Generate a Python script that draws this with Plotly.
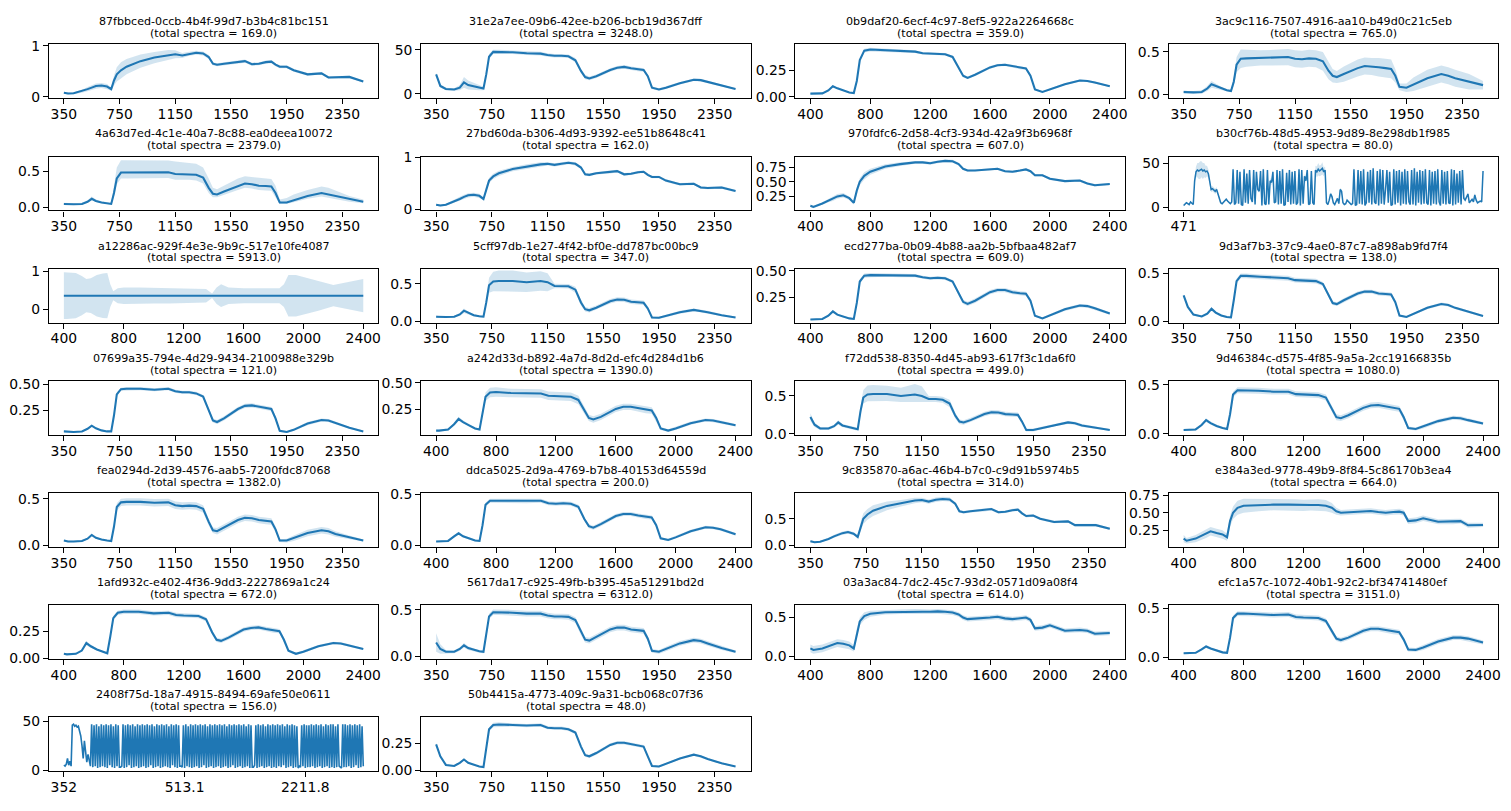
import plotly.graph_objects as go

# ---------------- data ----------------
WL_A = [350, 380, 420, 480, 520, 550, 580, 620, 660, 690,
        710, 730, 760, 800, 900, 1000, 1100, 1150, 1200, 1250,
        1300, 1350, 1390, 1420, 1450, 1500, 1600, 1650, 1700, 1750,
        1800, 1840, 1870, 1900, 1950, 2000, 2100, 2200, 2250, 2300, 2400, 2500]
WL_B = [400, 420, 480, 520, 550, 580, 620, 660, 690,
        710, 730, 760, 800, 900, 1000, 1100, 1150, 1200, 1250,
        1300, 1350, 1390, 1420, 1450, 1500, 1600, 1650, 1700, 1750,
        1800, 1840, 1870, 1900, 1950, 2000, 2100, 2200, 2250, 2300, 2400]
TICKS_A = [350, 750, 1150, 1550, 1950, 2350]
TICKS_B = [400, 800, 1200, 1600, 2000, 2400]

IDS = ["87fbbced-0ccb-4b4f-99d7-b3b4c81bc151", "31e2a7ee-09b6-42ee-b206-bcb19d367dff",
       "0b9daf20-6ecf-4c97-8ef5-922a2264668c", "3ac9c116-7507-4916-aa10-b49d0c21c5eb",
       "4a63d7ed-4c1e-40a7-8c88-ea0deea10072", "27bd60da-b306-4d93-9392-ee51b8648c41",
       "970fdfc6-2d58-4cf3-934d-42a9f3b6968f", "b30cf76b-48d5-4953-9d89-8e298db1f985",
       "a12286ac-929f-4e3e-9b9c-517e10fe4087", "5cff97db-1e27-4f42-bf0e-dd787bc00bc9",
       "ecd277ba-0b09-4b88-aa2b-5bfbaa482af7", "9d3af7b3-37c9-4ae0-87c7-a898ab9fd7f4",
       "07699a35-794e-4d29-9434-2100988e329b", "a242d33d-b892-4a7d-8d2d-efc4d284d1b6",
       "f72dd538-8350-4d45-ab93-617f3c1da6f0", "9d46384c-d575-4f85-9a5a-2cc19166835b",
       "fea0294d-2d39-4576-aab5-7200fdc87068", "ddca5025-2d9a-4769-b7b8-40153d64559d",
       "9c835870-a6ac-46b4-b7c0-c9d91b5974b5", "e384a3ed-9778-49b9-8f84-5c86170b3ea4",
       "1afd932c-e402-4f36-9dd3-2227869a1c24", "5617da17-c925-49fb-b395-45a51291bd2d",
       "03a3ac84-7dc2-45c7-93d2-0571d09a08f4", "efc1a57c-1072-40b1-92c2-bf34741480ef",
       "2408f75d-18a7-4915-8494-69afe50e0611", "50b4415a-4773-409c-9a31-bcb068c07f36"]
TOTALS = [169.0, 3248.0, 359.0, 765.0, 2379.0, 162.0, 607.0, 80.0, 5913.0, 347.0,
          609.0, 138.0, 121.0, 1390.0, 499.0, 1080.0, 1382.0, 200.0, 314.0, 664.0,
          672.0, 6312.0, 614.0, 3151.0, 156.0, 48.0]

# y ranges and ticks per subplot
Y_RANGES = [[-0.03, 1.03], [-5, 56], [-0.015, 0.5], [-0.045, 0.59],
            [-0.04, 0.70], [-0.02, 1.01], [0.01, 0.93], [-3.7, 57.4],
            [-0.36, 1.07], [-0.02, 0.70], [0.015, 0.52], [-0.015, 0.55],
            [0.012, 0.53], [0.01, 0.52], [-0.015, 0.70], [-0.01, 0.54],
            [-0.02, 0.56], [-0.015, 0.515], [-0.03, 0.98], [0.01, 0.78],
            [-0.01, 0.49], [-0.03, 0.55], [-0.04, 0.66], [-0.02, 0.53],
            [-1.4, 54], [-0.01, 0.49]]
Y_TICKS = [[0, 1], [0, 50], [0.0, 0.25], [0.0, 0.5],
           [0.0, 0.5], [0, 1], [0.25, 0.5, 0.75], [0, 50],
           [0, 1], [0.0, 0.5], [0.25, 0.5], [0.0, 0.5],
           [0.25, 0.5], [0.25, 0.5], [0.0, 0.5], [0.0, 0.5],
           [0.0, 0.5], [0.0, 0.5], [0.0, 0.5], [0.25, 0.5, 0.75],
           [0.0, 0.25], [0.0, 0.5], [0.0, 0.5], [0.0, 0.5],
           [0, 50], [0.0, 0.25]]
Y_TICKTEXT = [["0", "1"], ["0", "50"], ["0.00", "0.25"], ["0.0", "0.5"],
              ["0.0", "0.5"], ["0", "1"], ["0.25", "0.50", "0.75"], ["0", "50"],
              ["0", "1"], ["0.0", "0.5"], ["0.25", "0.50"], ["0.0", "0.5"],
              ["0.25", "0.50"], ["0.25", "0.50"], ["0.0", "0.5"], ["0.0", "0.5"],
              ["0.0", "0.5"], ["0.0", "0.5"], ["0.0", "0.5"], ["0.25", "0.50", "0.75"],
              ["0.00", "0.25"], ["0.0", "0.5"], ["0.0", "0.5"], ["0.0", "0.5"],
              ["0", "50"], ["0.00", "0.25"]]

# --- spectral subplots: mean and band deviations ---
P01_MEAN = [0.08, 0.065, 0.07, 0.11, 0.15, 0.18, 0.21, 0.22, 0.20, 0.15,
            0.32, 0.44, 0.52, 0.59, 0.70, 0.77, 0.82, 0.835, 0.81, 0.845,
            0.865, 0.85, 0.78, 0.65, 0.63, 0.65, 0.68, 0.70, 0.64, 0.65,
            0.68, 0.69, 0.63, 0.59, 0.59, 0.52, 0.44, 0.46, 0.38, 0.38, 0.39, 0.30]
P01_UP = [0.02, 0.02, 0.02, 0.03, 0.04, 0.05, 0.05, 0.05, 0.05, 0.03,
          0.10, 0.14, 0.16, 0.15, 0.13, 0.11, 0.10, 0.08, 0.05, 0.04,
          0.04, 0.04, 0.04, 0.03, 0.03, 0.03, 0.03, 0.03, 0.03, 0.03,
          0.03, 0.03, 0.03, 0.03, 0.03, 0.03, 0.025, 0.025, 0.025, 0.025, 0.025, 0.02]
P01_DN = P01_UP

P02_MEAN = [22, 9, 5.5, 5, 7, 13, 10, 8.5, 7, 6,
            22, 42, 47.5, 47.5, 47, 46, 45.5, 44, 43, 43,
            42.5, 38, 26, 19, 17.5, 20, 27, 29.5, 30.5, 29,
            27.5, 27, 20, 7, 5, 7, 12, 16, 15.5, 13.5, 9.5, 5.5]
P02_UP = [2, 2, 1.5, 1.5, 3, 6, 5, 4, 3, 2,
          3, 3, 2.5, 2.5, 2, 2, 2, 2, 2, 2,
          2, 2.5, 2.5, 2.5, 2, 2, 2, 2, 2, 2,
          2, 2, 2, 1.5, 1.5, 1.5, 1.5, 1.5, 1.5, 1.5, 1.2, 1]
P02_DN = P02_UP

P03_MEAN = [0.03, 0.03, 0.032, 0.06, 0.10, 0.08, 0.06, 0.04, 0.035,
            0.15, 0.35, 0.44, 0.45, 0.445, 0.435, 0.43, 0.415, 0.41, 0.41,
            0.405, 0.38, 0.28, 0.20, 0.18, 0.21, 0.28, 0.30, 0.305, 0.29,
            0.275, 0.27, 0.20, 0.07, 0.045, 0.07, 0.12, 0.155, 0.15, 0.135, 0.10]
P03_UP = [0.006, 0.006, 0.006, 0.008, 0.012, 0.01, 0.008, 0.006, 0.006,
          0.012, 0.015, 0.018, 0.018, 0.015, 0.014, 0.013, 0.012, 0.012, 0.012,
          0.012, 0.013, 0.013, 0.013, 0.012, 0.012, 0.012, 0.012, 0.012, 0.012,
          0.012, 0.012, 0.012, 0.01, 0.008, 0.01, 0.01, 0.01, 0.01, 0.01, 0.008]
P03_DN = P03_UP

P04_MEAN = [0.03, 0.025, 0.025, 0.03, 0.07, 0.12, 0.10, 0.07, 0.05, 0.04,
            0.15, 0.35, 0.42, 0.425, 0.43, 0.435, 0.44, 0.42, 0.415, 0.425,
            0.42, 0.39, 0.28, 0.22, 0.205, 0.24, 0.31, 0.335, 0.33, 0.32,
            0.31, 0.30, 0.22, 0.09, 0.08, 0.12, 0.19, 0.24, 0.22, 0.19, 0.15, 0.11]
P04_UP = [0.02, 0.015, 0.015, 0.02, 0.03, 0.04, 0.03, 0.02, 0.015, 0.015,
          0.05, 0.09, 0.11, 0.10, 0.09, 0.09, 0.095, 0.10, 0.10, 0.10,
          0.10, 0.11, 0.10, 0.08, 0.07, 0.09, 0.10, 0.10, 0.10, 0.11,
          0.11, 0.11, 0.08, 0.04, 0.05, 0.08, 0.10, 0.10, 0.10, 0.10, 0.09, 0.05]
P04_DN = P04_UP

P05_MEAN = [0.05, 0.045, 0.045, 0.05, 0.08, 0.12, 0.09, 0.07, 0.06, 0.05,
            0.2, 0.40, 0.48, 0.48, 0.485, 0.48, 0.485, 0.46, 0.455, 0.46,
            0.45, 0.41, 0.27, 0.19, 0.18, 0.22, 0.30, 0.33, 0.32, 0.30,
            0.295, 0.29, 0.2, 0.07, 0.07, 0.10, 0.16, 0.20, 0.18, 0.15, 0.11, 0.08]
P05_UP = [0.015, 0.015, 0.015, 0.015, 0.02, 0.03, 0.02, 0.015, 0.015, 0.015,
          0.1, 0.15, 0.17, 0.17, 0.17, 0.17, 0.16, 0.17, 0.17, 0.15,
          0.15, 0.14, 0.13, 0.08, 0.07, 0.08, 0.1, 0.1, 0.1, 0.1,
          0.1, 0.1, 0.1, 0.04, 0.06, 0.08, 0.08, 0.09, 0.09, 0.08, 0.05, 0.03]
P05_DN = [0.01, 0.01, 0.01, 0.01, 0.015, 0.02, 0.015, 0.01, 0.01, 0.01,
          0.05, 0.08, 0.08, 0.08, 0.08, 0.08, 0.08, 0.08, 0.08, 0.08,
          0.08, 0.08, 0.07, 0.05, 0.04, 0.05, 0.06, 0.06, 0.06, 0.06,
          0.06, 0.06, 0.05, 0.02, 0.02, 0.03, 0.04, 0.05, 0.05, 0.04, 0.03, 0.02]

P06_MEAN = [0.09, 0.075, 0.09, 0.15, 0.20, 0.24, 0.27, 0.28, 0.26, 0.20,
            0.40, 0.55, 0.63, 0.69, 0.77, 0.82, 0.86, 0.87, 0.85, 0.87,
            0.89, 0.87, 0.80, 0.67, 0.66, 0.69, 0.71, 0.73, 0.67, 0.68,
            0.71, 0.72, 0.66, 0.62, 0.62, 0.55, 0.48, 0.49, 0.42, 0.41, 0.42, 0.35]
P06_UP = [0.02, 0.02, 0.02, 0.03, 0.04, 0.04, 0.04, 0.04, 0.04, 0.03,
          0.05, 0.05, 0.05, 0.05, 0.04, 0.04, 0.04, 0.03, 0.03, 0.03,
          0.03, 0.03, 0.03, 0.025, 0.025, 0.025, 0.025, 0.025, 0.025, 0.025,
          0.025, 0.025, 0.025, 0.025, 0.025, 0.025, 0.025, 0.025, 0.025, 0.025, 0.025, 0.02]
P06_DN = P06_UP

P07_MEAN = [0.09, 0.07, 0.13, 0.18, 0.21, 0.25, 0.27, 0.22, 0.14,
            0.35, 0.50, 0.60, 0.67, 0.76, 0.80, 0.83, 0.83, 0.815, 0.84,
            0.855, 0.85, 0.80, 0.72, 0.69, 0.69, 0.71, 0.72, 0.68, 0.67,
            0.69, 0.71, 0.68, 0.61, 0.61, 0.55, 0.51, 0.52, 0.47, 0.44, 0.46]
P07_UP = [0.02, 0.02, 0.02, 0.03, 0.04, 0.04, 0.04, 0.03, 0.03,
          0.06, 0.06, 0.06, 0.05, 0.04, 0.03, 0.025, 0.025, 0.025, 0.025,
          0.025, 0.025, 0.025, 0.02, 0.02, 0.02, 0.02, 0.02, 0.02, 0.02,
          0.02, 0.02, 0.02, 0.02, 0.02, 0.02, 0.02, 0.02, 0.02, 0.02, 0.02]
P07_DN = P07_UP

P09_MEAN = [0.355, 0.355, 0.355, 0.355, 0.355, 0.355, 0.355, 0.355, 0.355,
            0.355, 0.355, 0.355, 0.355, 0.355, 0.355, 0.355, 0.355, 0.355, 0.355,
            0.355, 0.355, 0.355, 0.355, 0.355, 0.355, 0.355, 0.355, 0.355, 0.355,
            0.355, 0.355, 0.355, 0.355, 0.355, 0.355, 0.355, 0.355, 0.355, 0.355, 0.355]
P09_UP = [0.62, 0.62, 0.60, 0.52, 0.44, 0.46, 0.55, 0.59, 0.60,
          0.30, 0.12, 0.20, 0.22, 0.22, 0.21, 0.21, 0.21, 0.20, 0.20,
          0.19, 0.18, 0.06, 0.22, 0.30, 0.22, 0.20, 0.20, 0.20, 0.20,
          0.20, 0.20, 0.30, 0.55, 0.55, 0.50, 0.40, 0.28, 0.32, 0.36, 0.44]
P09_DN = P09_UP

P10_MEAN = [0.06, 0.055, 0.055, 0.06, 0.09, 0.14, 0.11, 0.08, 0.065, 0.06,
            0.25, 0.48, 0.53, 0.535, 0.535, 0.52, 0.535, 0.52, 0.47, 0.47,
            0.465, 0.42, 0.25, 0.16, 0.145, 0.18, 0.265, 0.29, 0.285, 0.26,
            0.25, 0.245, 0.17, 0.05, 0.045, 0.07, 0.12, 0.15, 0.14, 0.12, 0.08, 0.05]
P10_UP = [0.015, 0.012, 0.012, 0.012, 0.02, 0.03, 0.02, 0.015, 0.012, 0.012,
          0.05, 0.10, 0.13, 0.14, 0.14, 0.13, 0.13, 0.12, 0.03, 0.03,
          0.03, 0.04, 0.04, 0.03, 0.03, 0.03, 0.03, 0.03, 0.03, 0.03,
          0.03, 0.03, 0.03, 0.015, 0.015, 0.02, 0.02, 0.02, 0.02, 0.02, 0.015, 0.012]
P10_DN = P10_UP

P11_MEAN = [0.045, 0.045, 0.05, 0.08, 0.12, 0.09, 0.07, 0.055, 0.05,
            0.2, 0.40, 0.455, 0.46, 0.46, 0.455, 0.455, 0.44, 0.43, 0.435,
            0.43, 0.40, 0.29, 0.21, 0.19, 0.22, 0.30, 0.32, 0.32, 0.30,
            0.29, 0.285, 0.22, 0.08, 0.055, 0.085, 0.14, 0.175, 0.17, 0.15, 0.10]
P11_UP = [0.005, 0.005, 0.006, 0.01, 0.015, 0.01, 0.008, 0.006, 0.006,
          0.015, 0.02, 0.02, 0.02, 0.015, 0.015, 0.015, 0.015, 0.015, 0.015,
          0.015, 0.015, 0.02, 0.02, 0.02, 0.02, 0.02, 0.02, 0.02, 0.02,
          0.02, 0.02, 0.02, 0.01, 0.01, 0.012, 0.015, 0.015, 0.015, 0.015, 0.012]
P11_DN = P11_UP

P12_MEAN = [0.27, 0.15, 0.07, 0.05, 0.08, 0.13, 0.09, 0.06, 0.045, 0.04,
            0.22, 0.42, 0.475, 0.475, 0.465, 0.455, 0.45, 0.43, 0.425, 0.425,
            0.42, 0.39, 0.27, 0.19, 0.18, 0.22, 0.29, 0.31, 0.31, 0.29,
            0.285, 0.28, 0.20, 0.06, 0.045, 0.075, 0.14, 0.18, 0.17, 0.14, 0.10, 0.055]
P12_UP = [0.01, 0.01, 0.01, 0.01, 0.015, 0.02, 0.015, 0.01, 0.01, 0.01,
          0.02, 0.025, 0.025, 0.025, 0.025, 0.025, 0.025, 0.025, 0.025, 0.025,
          0.025, 0.02, 0.02, 0.02, 0.02, 0.02, 0.02, 0.02, 0.02, 0.02,
          0.02, 0.02, 0.02, 0.01, 0.01, 0.012, 0.015, 0.015, 0.015, 0.015, 0.012, 0.01]
P12_DN = P12_UP

P13_MEAN = [0.045, 0.04, 0.04, 0.045, 0.07, 0.10, 0.075, 0.055, 0.045, 0.045,
            0.2, 0.40, 0.45, 0.455, 0.455, 0.445, 0.455, 0.43, 0.42, 0.42,
            0.41, 0.38, 0.25, 0.15, 0.135, 0.17, 0.26, 0.29, 0.295, 0.28,
            0.27, 0.26, 0.17, 0.05, 0.04, 0.06, 0.12, 0.155, 0.15, 0.125, 0.08, 0.045]
P13_UP = [0.006, 0.006, 0.006, 0.006, 0.008, 0.01, 0.008, 0.006, 0.006, 0.006,
          0.015, 0.02, 0.015, 0.015, 0.015, 0.015, 0.015, 0.015, 0.015, 0.015,
          0.015, 0.015, 0.02, 0.02, 0.02, 0.02, 0.02, 0.02, 0.02, 0.02,
          0.02, 0.02, 0.02, 0.01, 0.01, 0.012, 0.015, 0.015, 0.015, 0.015, 0.01, 0.008]
P13_DN = P13_UP

P14_MEAN = [0.05, 0.05, 0.06, 0.11, 0.16, 0.13, 0.10, 0.07, 0.06,
            0.2, 0.37, 0.41, 0.415, 0.405, 0.40, 0.40, 0.38, 0.375, 0.375,
            0.37, 0.34, 0.24, 0.17, 0.155, 0.18, 0.255, 0.275, 0.275, 0.26,
            0.245, 0.24, 0.17, 0.07, 0.05, 0.07, 0.12, 0.15, 0.145, 0.13, 0.10]
P14_UP = [0.008, 0.008, 0.01, 0.015, 0.02, 0.015, 0.012, 0.01, 0.01,
          0.03, 0.04, 0.045, 0.045, 0.04, 0.04, 0.04, 0.04, 0.04, 0.04,
          0.04, 0.04, 0.035, 0.03, 0.03, 0.03, 0.03, 0.03, 0.03, 0.03,
          0.03, 0.03, 0.03, 0.015, 0.012, 0.015, 0.015, 0.015, 0.015, 0.015, 0.012]
P14_DN = P14_UP

P15_MEAN = [0.22, 0.12, 0.07, 0.07, 0.10, 0.15, 0.11, 0.09, 0.07, 0.06,
            0.30, 0.48, 0.52, 0.525, 0.525, 0.50, 0.52, 0.50, 0.46, 0.46,
            0.45, 0.40, 0.24, 0.16, 0.15, 0.18, 0.26, 0.285, 0.28, 0.26,
            0.255, 0.25, 0.16, 0.05, 0.05, 0.07, 0.12, 0.15, 0.14, 0.11, 0.08, 0.05]
P15_UP = [0.05, 0.03, 0.02, 0.02, 0.02, 0.03, 0.02, 0.02, 0.02, 0.02,
          0.06, 0.10, 0.12, 0.12, 0.11, 0.11, 0.14, 0.13, 0.04, 0.04,
          0.04, 0.05, 0.04, 0.03, 0.03, 0.03, 0.03, 0.03, 0.03, 0.03,
          0.03, 0.03, 0.03, 0.02, 0.02, 0.02, 0.02, 0.02, 0.02, 0.02, 0.015, 0.012]
P15_DN = [0.05, 0.03, 0.02, 0.02, 0.02, 0.03, 0.02, 0.02, 0.02, 0.02,
          0.05, 0.08, 0.09, 0.09, 0.09, 0.08, 0.09, 0.08, 0.04, 0.04,
          0.04, 0.05, 0.04, 0.03, 0.03, 0.03, 0.03, 0.03, 0.03, 0.03,
          0.03, 0.03, 0.03, 0.02, 0.02, 0.02, 0.02, 0.02, 0.02, 0.02, 0.015, 0.012]

P16_MEAN = [0.04, 0.04, 0.045, 0.09, 0.14, 0.11, 0.08, 0.06, 0.05,
            0.2, 0.40, 0.445, 0.445, 0.44, 0.43, 0.43, 0.405, 0.40, 0.40,
            0.395, 0.37, 0.25, 0.17, 0.16, 0.19, 0.265, 0.29, 0.295, 0.28,
            0.265, 0.255, 0.17, 0.06, 0.05, 0.075, 0.13, 0.165, 0.16, 0.14, 0.105]
P16_UP = [0.01, 0.01, 0.01, 0.015, 0.02, 0.015, 0.012, 0.01, 0.01,
          0.02, 0.03, 0.03, 0.03, 0.03, 0.03, 0.03, 0.03, 0.03, 0.03,
          0.03, 0.03, 0.03, 0.03, 0.03, 0.03, 0.03, 0.03, 0.03, 0.03,
          0.03, 0.03, 0.03, 0.015, 0.015, 0.02, 0.02, 0.02, 0.02, 0.02, 0.015]
P16_DN = P16_UP

P17_MEAN = [0.05, 0.04, 0.04, 0.045, 0.07, 0.11, 0.08, 0.06, 0.05, 0.045,
            0.2, 0.41, 0.46, 0.465, 0.465, 0.455, 0.46, 0.43, 0.42, 0.425,
            0.42, 0.39, 0.25, 0.16, 0.15, 0.19, 0.27, 0.295, 0.29, 0.27,
            0.26, 0.255, 0.17, 0.05, 0.05, 0.075, 0.13, 0.16, 0.15, 0.12, 0.085, 0.05]
P17_UP = [0.008, 0.008, 0.008, 0.008, 0.01, 0.015, 0.01, 0.008, 0.008, 0.008,
          0.03, 0.04, 0.04, 0.04, 0.04, 0.04, 0.04, 0.04, 0.04, 0.04,
          0.04, 0.04, 0.035, 0.03, 0.035, 0.035, 0.035, 0.035, 0.035, 0.035,
          0.035, 0.035, 0.03, 0.015, 0.02, 0.03, 0.035, 0.035, 0.035, 0.03, 0.02, 0.01]
P17_DN = P17_UP

P18_MEAN = [0.04, 0.04, 0.045, 0.09, 0.12, 0.09, 0.07, 0.05, 0.045,
            0.2, 0.40, 0.44, 0.44, 0.44, 0.435, 0.44, 0.415, 0.41, 0.415,
            0.41, 0.38, 0.26, 0.19, 0.175, 0.21, 0.29, 0.31, 0.31, 0.295,
            0.28, 0.275, 0.20, 0.07, 0.055, 0.08, 0.14, 0.18, 0.175, 0.16, 0.11]
P18_UP = [0.008, 0.008, 0.008, 0.012, 0.015, 0.012, 0.01, 0.008, 0.008,
          0.015, 0.02, 0.02, 0.02, 0.02, 0.02, 0.02, 0.02, 0.02, 0.02,
          0.02, 0.02, 0.02, 0.02, 0.02, 0.02, 0.02, 0.02, 0.02, 0.02,
          0.02, 0.02, 0.02, 0.012, 0.012, 0.015, 0.015, 0.015, 0.015, 0.015, 0.012]
P18_DN = P18_UP

P19_MEAN = [0.08, 0.06, 0.07, 0.12, 0.17, 0.20, 0.23, 0.25, 0.22, 0.16,
            0.35, 0.50, 0.58, 0.65, 0.74, 0.79, 0.84, 0.85, 0.82, 0.855,
            0.87, 0.86, 0.78, 0.64, 0.62, 0.64, 0.66, 0.68, 0.62, 0.63,
            0.66, 0.67, 0.60, 0.55, 0.56, 0.50, 0.44, 0.45, 0.38, 0.38, 0.38, 0.31]
P19_UP = [0.02, 0.02, 0.02, 0.02, 0.03, 0.03, 0.03, 0.03, 0.03, 0.03,
          0.08, 0.10, 0.10, 0.10, 0.08, 0.06, 0.05, 0.04, 0.04, 0.04,
          0.04, 0.04, 0.03, 0.025, 0.025, 0.025, 0.025, 0.025, 0.025, 0.025,
          0.025, 0.025, 0.025, 0.025, 0.025, 0.025, 0.025, 0.025, 0.025, 0.025, 0.025, 0.02]
P19_DN = P19_UP

P20_MEAN = [0.13, 0.10, 0.13, 0.17, 0.20, 0.235, 0.21, 0.19, 0.15,
            0.38, 0.50, 0.57, 0.60, 0.61, 0.615, 0.615, 0.61, 0.605, 0.61,
            0.61, 0.60, 0.57, 0.52, 0.50, 0.505, 0.52, 0.525, 0.51, 0.50,
            0.51, 0.515, 0.50, 0.38, 0.39, 0.42, 0.37, 0.37, 0.38, 0.32, 0.325]
P20_UP = [0.05, 0.04, 0.05, 0.06, 0.06, 0.06, 0.06, 0.06, 0.05,
          0.08, 0.09, 0.10, 0.10, 0.09, 0.08, 0.08, 0.08, 0.08, 0.08,
          0.08, 0.08, 0.07, 0.05, 0.04, 0.04, 0.04, 0.04, 0.04, 0.04,
          0.04, 0.04, 0.04, 0.04, 0.04, 0.04, 0.035, 0.035, 0.035, 0.035, 0.03]
P20_DN = P20_UP

P21_MEAN = [0.04, 0.035, 0.04, 0.07, 0.14, 0.11, 0.08, 0.06, 0.045,
            0.2, 0.37, 0.42, 0.43, 0.43, 0.415, 0.42, 0.40, 0.395, 0.395,
            0.39, 0.36, 0.24, 0.17, 0.16, 0.19, 0.265, 0.28, 0.285, 0.27,
            0.255, 0.25, 0.17, 0.07, 0.04, 0.06, 0.11, 0.14, 0.135, 0.12, 0.085]
P21_UP = [0.005, 0.005, 0.006, 0.01, 0.02, 0.015, 0.01, 0.008, 0.006,
          0.02, 0.02, 0.02, 0.02, 0.02, 0.02, 0.02, 0.02, 0.02, 0.02,
          0.02, 0.02, 0.02, 0.02, 0.02, 0.02, 0.02, 0.02, 0.02, 0.02,
          0.02, 0.02, 0.02, 0.012, 0.01, 0.012, 0.012, 0.012, 0.012, 0.012, 0.01]
P21_DN = P21_UP

P22_MEAN = [0.15, 0.08, 0.05, 0.05, 0.08, 0.12, 0.09, 0.07, 0.055, 0.05,
            0.22, 0.43, 0.475, 0.475, 0.47, 0.46, 0.46, 0.44, 0.43, 0.43,
            0.425, 0.39, 0.26, 0.18, 0.17, 0.21, 0.29, 0.31, 0.31, 0.29,
            0.28, 0.275, 0.19, 0.06, 0.05, 0.08, 0.14, 0.175, 0.165, 0.14, 0.09, 0.05]
P22_UP = [0.10, 0.05, 0.02, 0.015, 0.02, 0.025, 0.02, 0.015, 0.015, 0.015,
          0.03, 0.03, 0.03, 0.03, 0.03, 0.03, 0.03, 0.03, 0.03, 0.03,
          0.03, 0.03, 0.03, 0.03, 0.03, 0.03, 0.03, 0.03, 0.03, 0.03,
          0.03, 0.03, 0.03, 0.02, 0.02, 0.025, 0.025, 0.025, 0.025, 0.025, 0.02, 0.015]
P22_DN = P22_UP

P23_MEAN = [0.10, 0.08, 0.10, 0.13, 0.15, 0.17, 0.16, 0.14, 0.10,
            0.30, 0.45, 0.52, 0.55, 0.57, 0.575, 0.58, 0.575, 0.575, 0.58,
            0.575, 0.565, 0.54, 0.50, 0.48, 0.485, 0.50, 0.51, 0.49, 0.48,
            0.49, 0.50, 0.47, 0.36, 0.37, 0.40, 0.33, 0.34, 0.33, 0.29, 0.30]
P23_UP = [0.05, 0.05, 0.05, 0.05, 0.05, 0.05, 0.05, 0.05, 0.04,
          0.06, 0.05, 0.05, 0.04, 0.03, 0.03, 0.03, 0.03, 0.03, 0.03,
          0.03, 0.03, 0.03, 0.03, 0.03, 0.03, 0.03, 0.03, 0.03, 0.03,
          0.03, 0.03, 0.03, 0.03, 0.03, 0.03, 0.03, 0.03, 0.03, 0.03, 0.03]
P23_DN = P23_UP

P24_MEAN = [0.04, 0.04, 0.045, 0.08, 0.11, 0.09, 0.07, 0.05, 0.045,
            0.2, 0.40, 0.445, 0.445, 0.44, 0.43, 0.435, 0.41, 0.405, 0.405,
            0.40, 0.37, 0.26, 0.19, 0.175, 0.20, 0.27, 0.29, 0.29, 0.275,
            0.26, 0.255, 0.18, 0.08, 0.075, 0.10, 0.16, 0.20, 0.20, 0.19, 0.15]
P24_UP = [0.008, 0.008, 0.008, 0.012, 0.015, 0.012, 0.01, 0.008, 0.008,
          0.02, 0.025, 0.025, 0.025, 0.025, 0.025, 0.025, 0.025, 0.025, 0.025,
          0.025, 0.025, 0.025, 0.025, 0.025, 0.025, 0.025, 0.025, 0.025, 0.025,
          0.025, 0.025, 0.025, 0.02, 0.02, 0.025, 0.025, 0.025, 0.025, 0.025, 0.02]
P24_DN = P24_UP

P26_MEAN = [0.24, 0.13, 0.05, 0.04, 0.07, 0.10, 0.07, 0.05, 0.035, 0.03,
            0.2, 0.38, 0.42, 0.425, 0.42, 0.415, 0.42, 0.395, 0.39, 0.39,
            0.38, 0.35, 0.22, 0.14, 0.13, 0.16, 0.235, 0.255, 0.255, 0.24,
            0.23, 0.22, 0.13, 0.04, 0.035, 0.06, 0.11, 0.145, 0.13, 0.105, 0.065, 0.035]
P26_UP = [0.015, 0.01, 0.008, 0.006, 0.008, 0.01, 0.008, 0.006, 0.006, 0.006,
          0.015, 0.02, 0.02, 0.02, 0.015, 0.015, 0.015, 0.015, 0.015, 0.015,
          0.015, 0.015, 0.015, 0.015, 0.015, 0.015, 0.015, 0.015, 0.015, 0.015,
          0.015, 0.015, 0.015, 0.01, 0.008, 0.01, 0.01, 0.01, 0.01, 0.01, 0.008, 0.006]
P26_DN = P26_UP

# --- noisy subplot b30cf76b (sample index based) ---
P08_VALS = [2, 3, 5, 4, 3, 6, 4, 3, 30, 40, 42, 41,
            42, 43, 41, 42, 40, 41, 38, 30,
            20, 21, 19, 18, 20, 15, 8, 5, 4, 6, 8, 9, 7, 5, 4, 6,
            43, 3, 5, 42, 4, 40, 3, 2, 43, 5,
            38, 4, 42, 10, 6, 42, 3, 40, 20, 18,
            41, 2, 43, 4, 3, 42, 3, 30, 28, 40,
            5, 6, 42, 3, 41, 4, 43, 2, 3, 39,
            6, 42, 3, 40, 4, 41, 3, 5, 43, 2,
            42, 4, 35, 30, 42, 3, 4, 41, 5, 3,
            42, 40, 43, 41, 42, 44, 40, 42,
            5, 3, 8, 15, 12, 5, 3, 6, 10, 4, 20, 18, 5, 3, 4, 8, 6, 5, 3, 4,
            43, 2, 3, 42, 4, 41, 3, 43, 2, 5,
            40, 5, 42, 3, 44, 6, 4, 41, 2, 43,
            4, 42, 3, 20, 42, 5, 40, 2, 3, 43,
            3, 41, 5, 42, 2, 40, 4, 43, 3, 41,
            6, 3, 42, 3, 44, 2, 40, 5, 42, 3,
            41, 4, 43, 5, 3, 42, 2, 40, 4, 41,
            3, 43, 6, 2, 42, 4, 40, 3, 41, 5,
            4, 43, 2, 42, 3, 38, 5, 41, 3, 42,
            10, 8, 12, 15, 5, 7, 9, 6, 14, 8, 5, 6, 7, 6, 41]
P08_SD = [1, 1, 1, 1, 1, 1, 1, 1, 4, 6, 8, 9,
          10, 9, 9, 8, 7, 6, 5, 4,
          3, 3, 3, 3, 3, 2, 2, 1, 1, 1, 1, 1, 1, 1, 1, 1,
          3, 1, 1, 3, 1, 3, 1, 1, 3, 1,
          3, 1, 3, 2, 1, 3, 1, 3, 2, 2,
          3, 1, 3, 1, 1, 3, 1, 3, 3, 3,
          1, 1, 3, 1, 3, 1, 3, 1, 1, 3,
          1, 3, 1, 3, 1, 3, 1, 1, 3, 1,
          3, 1, 3, 3, 3, 1, 1, 3, 1, 1,
          5, 6, 7, 6, 6, 7, 5, 4,
          1, 1, 1, 2, 2, 1, 1, 1, 1, 1, 2, 2, 1, 1, 1, 1, 1, 1, 1, 1,
          3, 1, 1, 3, 1, 3, 1, 3, 1, 1,
          3, 1, 3, 1, 3, 1, 1, 3, 1, 3,
          1, 3, 1, 2, 3, 1, 3, 1, 1, 3,
          1, 3, 1, 3, 1, 3, 1, 3, 1, 3,
          1, 1, 3, 1, 3, 1, 3, 1, 3, 1,
          3, 1, 3, 1, 1, 3, 1, 3, 1, 3,
          1, 3, 1, 1, 3, 1, 3, 1, 3, 1,
          1, 3, 1, 3, 1, 3, 1, 3, 1, 3,
          2, 2, 2, 2, 1, 1, 1, 1, 2, 1, 1, 1, 1, 1, 2]
P08_TICKTEXT = ["471"]

# --- noisy subplot 2408f75d (one stored value per 4 samples) ---
P25_VALS = [5, 4, 6, 12, 5, 9, 4, 46, 47, 45, 46, 44, 45, 40, 35, 25, 12, 30, 18, 8, 16, 10, 4,
            47, 3, 46, 4, 47, 2, 45, 3, 47, 4,
            46, 3, 47, 2, 46, 5, 47, 3, 45, 2,
            47, 4, 46, 3, 3, 4, 47, 2, 46, 3,
            47, 5, 46, 2, 47, 3, 45, 4, 47, 2,
            46, 3, 47, 4, 46, 2, 47, 3, 46, 5,
            47, 2, 45, 3, 47, 4, 46, 2, 47, 3,
            46, 4, 47, 3, 45, 2, 47, 5, 46, 3,
            47, 2, 46, 4, 4, 3, 46, 2, 47, 4,
            45, 3, 47, 2, 46, 3, 47, 4, 46, 2,
            47, 3, 46, 5, 47, 2, 45, 3, 47, 4,
            46, 2, 47, 3, 46, 4, 47, 2, 46, 3,
            47, 4, 45, 2, 47, 3, 46, 5, 47, 2,
            46, 3, 47, 4, 46, 2, 47, 3, 45, 4,
            47, 2, 46, 3, 3, 5, 46, 2, 47, 3,
            46, 4, 47, 2, 45, 3, 47, 4, 46, 2,
            47, 3, 46, 2, 47, 4, 46, 3, 47, 5,
            45, 2, 47, 3, 46, 4, 47, 2, 46, 3,
            45, 2, 4, 3, 46, 4, 47, 2, 46, 3,
            46, 3, 47, 4, 46, 2, 47, 3, 46, 4,
            47, 2, 45, 3, 47, 4, 46, 2, 47, 3,
            47, 2, 45, 3, 47, 4, 3, 2, 47, 3,
            47, 3, 46, 4, 47, 2, 46, 3, 47, 5,
            46, 2, 47, 3, 45, 4]
P25_STEP = 4
P25_TICKVALS = [0, 400, 800]
P25_TICKTEXT = ["352", "513.1", "2211.8"]

SPECTRA = {
    0: (WL_A, P01_MEAN, P01_UP, P01_DN), 1: (WL_A, P02_MEAN, P02_UP, P02_DN),
    2: (WL_B, P03_MEAN, P03_UP, P03_DN), 3: (WL_A, P04_MEAN, P04_UP, P04_DN),
    4: (WL_A, P05_MEAN, P05_UP, P05_DN), 5: (WL_A, P06_MEAN, P06_UP, P06_DN),
    6: (WL_B, P07_MEAN, P07_UP, P07_DN),
    8: (WL_B, P09_MEAN, P09_UP, P09_DN), 9: (WL_A, P10_MEAN, P10_UP, P10_DN),
    10: (WL_B, P11_MEAN, P11_UP, P11_DN), 11: (WL_A, P12_MEAN, P12_UP, P12_DN),
    12: (WL_A, P13_MEAN, P13_UP, P13_DN), 13: (WL_B, P14_MEAN, P14_UP, P14_DN),
    14: (WL_A, P15_MEAN, P15_UP, P15_DN), 15: (WL_B, P16_MEAN, P16_UP, P16_DN),
    16: (WL_A, P17_MEAN, P17_UP, P17_DN), 17: (WL_B, P18_MEAN, P18_UP, P18_DN),
    18: (WL_A, P19_MEAN, P19_UP, P19_DN), 19: (WL_B, P20_MEAN, P20_UP, P20_DN),
    20: (WL_B, P21_MEAN, P21_UP, P21_DN), 21: (WL_A, P22_MEAN, P22_UP, P22_DN),
    22: (WL_B, P23_MEAN, P23_UP, P23_DN), 23: (WL_B, P24_MEAN, P24_UP, P24_DN),
    25: (WL_A, P26_MEAN, P26_UP, P26_DN),
}

# ---------------- layout geometry ----------------
W, H = 1511, 811
COL_LEFT = [49, 422, 797, 1171]
AX_W = 330
ROW_TOP0, ROW_PITCH, AX_H = 37, 114.3, 55
LINE_C = "#1f77b4"
BAND_C = "rgba(31,119,180,0.2)"
FONT = "DejaVu Sans"

fig = go.Figure()
layout = dict(width=W, height=H, margin=dict(l=0, r=0, t=0, b=0),
              paper_bgcolor="white", plot_bgcolor="white", showlegend=False,
              font=dict(family=FONT, color="black"), annotations=[])

def axis_common():
    return dict(showline=True, mirror=True, linecolor="black", linewidth=1.1,
                ticks="outside", ticklen=5, tickwidth=1.1, tickcolor="black",
                showgrid=False, zeroline=False, tickfont=dict(size=13.9, family=FONT, color="black"),
                fixedrange=True)

for k in range(26):
    n = k + 1
    sfx = "" if n == 1 else str(n)
    r, c = divmod(k, 4)
    left = COL_LEFT[c]
    top = ROW_TOP0 + ROW_PITCH * r
    xd = [left / W, (left + AX_W) / W]
    yd = [1 - (top + AX_H) / H, 1 - top / H]

    xa = axis_common()
    ya = axis_common()
    xa.update(domain=xd, anchor="y" + sfx, ticklabelstandoff=-2)
    ya.update(domain=yd, anchor="x" + sfx, range=Y_RANGES[k], tickmode="array",
              tickvals=Y_TICKS[k], ticktext=Y_TICKTEXT[k])

    if k in SPECTRA:
        wl, mean, up, dn = SPECTRA[k]
        assert len(wl) == len(mean) == len(up) == len(dn), (k, len(wl), len(mean), len(up), len(dn))
        hi = [m + u for m, u in zip(mean, up)]
        lo = [m - d for m, d in zip(mean, dn)]
        fig.add_trace(go.Scatter(x=wl + wl[::-1], y=hi + lo[::-1], fill="toself",
                                 fillcolor=BAND_C, line=dict(width=0), mode="lines",
                                 hoverinfo="skip", xaxis="x" + sfx, yaxis="y" + sfx))
        fig.add_trace(go.Scatter(x=wl, y=mean, mode="lines", line=dict(color=LINE_C, width=2.08),
                                 xaxis="x" + sfx, yaxis="y" + sfx))
        span = wl[-1] - wl[0]
        xa.update(range=[wl[0] - 0.05 * span, wl[-1] + 0.05 * span], tickmode="array",
                  tickvals=TICKS_A if wl is WL_A else TICKS_B)
    elif k == 7:
        idx = list(range(len(P08_VALS)))
        assert len(P08_SD) == len(P08_VALS), (len(P08_SD), len(P08_VALS))
        hi = [v + s for v, s in zip(P08_VALS, P08_SD)]
        lo = [v - s for v, s in zip(P08_VALS, P08_SD)]
        fig.add_trace(go.Scatter(x=idx + idx[::-1], y=hi + lo[::-1], fill="toself",
                                 fillcolor=BAND_C, line=dict(width=0), mode="lines",
                                 hoverinfo="skip", xaxis="x" + sfx, yaxis="y" + sfx))
        fig.add_trace(go.Scatter(x=idx, y=P08_VALS, mode="lines", line=dict(color=LINE_C, width=1.5),
                                 xaxis="x" + sfx, yaxis="y" + sfx))
        span = idx[-1]
        xa.update(range=[-0.05 * span, 1.05 * span], tickmode="array",
                  tickvals=[0], ticktext=P08_TICKTEXT)
    elif k == 24:
        idx = [i * P25_STEP for i in range(len(P25_VALS))]
        fig.add_trace(go.Scatter(x=idx, y=P25_VALS, mode="lines", line=dict(color=LINE_C, width=1.6),
                                 xaxis="x" + sfx, yaxis="y" + sfx))
        span = idx[-1]
        xa.update(range=[-0.05 * span, 1.05 * span], tickmode="array",
                  tickvals=P25_TICKVALS, ticktext=P25_TICKTEXT)

    layout["xaxis" + sfx] = xa
    layout["yaxis" + sfx] = ya
    cx = (left + AX_W / 2) / W
    for txt, off in ((IDS[k], 23), (f"(total spectra = {TOTALS[k]:.1f})", 11)):
        layout["annotations"].append(dict(
            text=txt, showarrow=False, xref="paper", yref="paper",
            x=cx, y=1 - (top - off) / H, xanchor="center", yanchor="middle",
            font=dict(size=11.1, family=FONT, color="black")))

fig.update_layout(**layout)
fig.write_html("out.html")
